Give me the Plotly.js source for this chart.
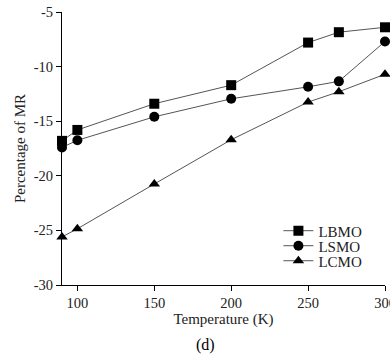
<!DOCTYPE html>
<html><head><meta charset="utf-8">
<script src="https://cdn.plot.ly/plotly-3.0.1.min.js"></script>
<style>html,body{margin:0;padding:0;background:#fff}#chart{width:390px;height:356px}</style>
</head><body><div id="chart"></div>
<script>
const temperature = [90, 100, 150, 200, 250, 270, 300];
const lbmo = [-16.8, -15.8, -13.4, -11.7, -7.8, -6.85, -6.4];
const lsmo = [-17.4, -16.75, -14.6, -12.95, -11.85, -11.35, -7.7];
const lcmo = [-25.6, -24.85, -20.75, -16.7, -13.25, -12.3, -10.7];
const seriesNames = ['LBMO', 'LSMO', 'LCMO'];
const xTicks = [100, 150, 200, 250, 300];
const yTicks = [-5, -10, -15, -20, -25, -30];
const yTickText = ['-5', '-10', '-15', '-20', '-25', '-30'];

const fontFam = '"Liberation Serif", "Times New Roman", serif';
const txtColor = '#222';
function tr(y, name, symbol, size, leg) {
  return {x: temperature, y: y, name: name, mode: 'lines+markers', type: 'scatter',
    cliponaxis: false, legend: leg,
    line: {color: '#555', width: 1},
    marker: {symbol: symbol, size: size, color: '#000'}};
}
const data = [
  tr(lbmo, seriesNames[0], 'square', 10, 'legend'),
  tr(lsmo, seriesNames[1], 'circle', 10, 'legend2'),
  tr(lcmo, seriesNames[2], 'triangle-up', 10, 'legend3')
];
function leg(y) {
  return {x: 0.67, y: y, xanchor: 'left', yanchor: 'middle', bgcolor: 'rgba(0,0,0,0)',
    font: {family: fontFam, size: 15, color: txtColor}, itemwidth: 30, borderwidth: 0};
}
const layout = {
  width: 390, height: 356,
  margin: {l: 62, r: 5, t: 12, b: 71},
  paper_bgcolor: '#fff', plot_bgcolor: '#fff',
  font: {family: fontFam, color: txtColor, size: 15},
  showlegend: true,
  legend: leg(0.198),
  legend2: leg(0.143),
  legend3: leg(0.088),
  xaxis: {range: [90, 300], tickvals: xTicks, ticks: 'outside', ticklen: 5, tickcolor: '#000',
    showline: true, linecolor: '#000', linewidth: 1, showgrid: false, zeroline: false,
    ticklabeloverflow: 'allow',
    tickfont: {family: fontFam, size: 14.5, color: txtColor},
    title: {text: 'Temperature (K)', font: {family: fontFam, size: 15, color: txtColor}, standoff: 2}},
  yaxis: {range: [-30, -5], tickvals: yTicks, ticktext: yTickText, ticks: 'outside', ticklen: 5, tickcolor: '#000',
    showline: true, linecolor: '#000', linewidth: 1, showgrid: false, zeroline: false,
    tickfont: {family: fontFam, size: 14.5, color: txtColor},
    title: {text: 'Percentage of MR', font: {family: fontFam, size: 15, color: txtColor}, standoff: 4}},
  annotations: [{text: '(d)', xref: 'paper', yref: 'paper', x: 0.445, y: -0.22, xanchor: 'center', yanchor: 'middle',
    showarrow: false, font: {family: fontFam, size: 16, color: '#000'}}]
};
Plotly.newPlot('chart', data, layout, {displayModeBar: false, staticPlot: true});
</script></body></html>
